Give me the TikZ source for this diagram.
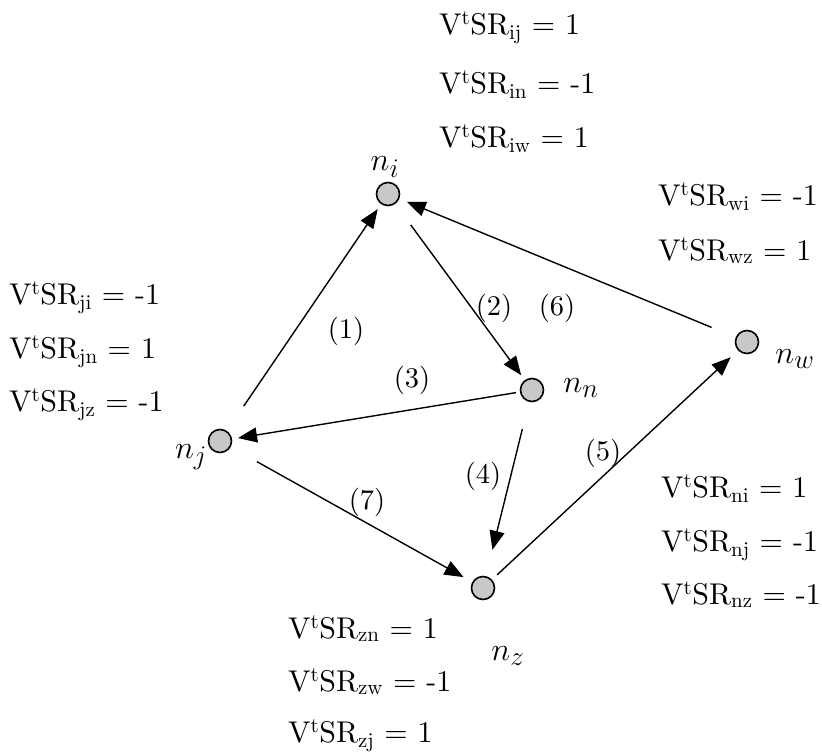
\documentclass[tikz,border=0pt]{standalone}
\usepackage{fontspec}
\newfontfamily\eqfont{lmroman10-regular.otf}
\usetikzlibrary{arrows.meta}
\definecolor{nodegray}{RGB}{200,200,200}
\newcommand\VtSR[1]{V\textsuperscript{t}SR\textsubscript{#1}}
\newcommand\vlab[1]{\scalebox{1.3}{$#1$}}
\tikzset{
  vert/.style={circle, draw, line width=1.6pt, fill=nodegray, minimum size=23pt, inner sep=0pt},
  conn/.style={line width=1.4pt, -{Triangle[length=19pt,width=15pt]}},
  eqn/.style={anchor=base west, font=\eqfont\fontsize{30}{34}\selectfont, inner sep=0pt},
  elabel/.style={font=\eqfont\fontsize{28.5}{31}\selectfont, inner sep=0pt},
  nlabel/.style={font=\fontsize{24.88}{28}\selectfont, inner sep=0pt},
}
\begin{document}
\begin{tikzpicture}[x=1pt,y=-1pt]
\useasboundingbox (0,0) rectangle (822,753);
% vertices
\node[vert] (ni) at (388,194) {};
\node[vert] (nn) at (532,390) {};
\node[vert] (nw) at (747,342) {};
\node[vert] (nj) at (220,441) {};
\node[vert] (nz) at (483,588) {};
% vertex labels
\node[nlabel] (lni) at (385,167) {\vlab{n_i}};
\node[nlabel] (lnn) at (581,388) {\vlab{n_n}};
\node[nlabel] (lnw) at (795,359) {\vlab{n_w}};
\node[nlabel] (lnj) at (191,457) {\vlab{n_j}};
\node[nlabel] (lnz) at (508,656) {\vlab{n_z}};
% connectors
\draw[conn, shorten <=30pt, shorten >=6pt] (nj) -- (ni);
\draw[conn, shorten <=26pt, shorten >=6pt] (ni) -- (nn);
\draw[conn, shorten <=4pt, shorten >=6pt] (nn) -- (nj);
\draw[conn, shorten <=28pt, shorten >=27pt] (nn) -- (nz);
\draw[conn, shorten <=7pt, shorten >=10pt] (nz) -- (nw);
\draw[conn, shorten <=26pt, shorten >=8pt] (nw) -- (ni);
\draw[conn, shorten <=30pt, shorten >=10pt] (nj) -- (nz);
% edge labels
\node[elabel] (e1) at (346,331) {(1)};
\node[elabel] (e2) at (494,308) {(2)};
\node[elabel] (e3) at (412,380) {(3)};
\node[elabel] (e4) at (483,476) {(4)};
\node[elabel] (e5) at (603,453) {(5)};
\node[elabel] (e6) at (557,308) {(6)};
\node[elabel] (e7) at (367,502) {(7)};
% equations
\node[eqn] (t1) at (439,34) {\VtSR{ij} = 1};
\node[eqn] (t2) at (439,93) {\VtSR{in} = -1};
\node[eqn] (t3) at (439,147) {\VtSR{iw} = 1};
\node[eqn] (l1) at (9,304) {\VtSR{ji} = -1};
\node[eqn] (l2) at (9,358) {\VtSR{jn} = 1};
\node[eqn] (l3) at (9,411) {\VtSR{jz} = -1};
\node[eqn] (r1) at (658,205) {\VtSR{wi} = -1};
\node[eqn] (r2) at (658,260) {\VtSR{wz} = 1};
\node[eqn] (s1) at (661,497) {\VtSR{ni} = 1};
\node[eqn] (s2) at (661,551) {\VtSR{nj} = -1};
\node[eqn] (s3) at (661,604) {\VtSR{nz} = -1};
\node[eqn] (b1) at (288,638) {\VtSR{zn} = 1};
\node[eqn] (b2) at (288,691) {\VtSR{zw} = -1};
\node[eqn] (b3) at (288,742) {\VtSR{zj} = 1};
\end{tikzpicture}
\end{document}
